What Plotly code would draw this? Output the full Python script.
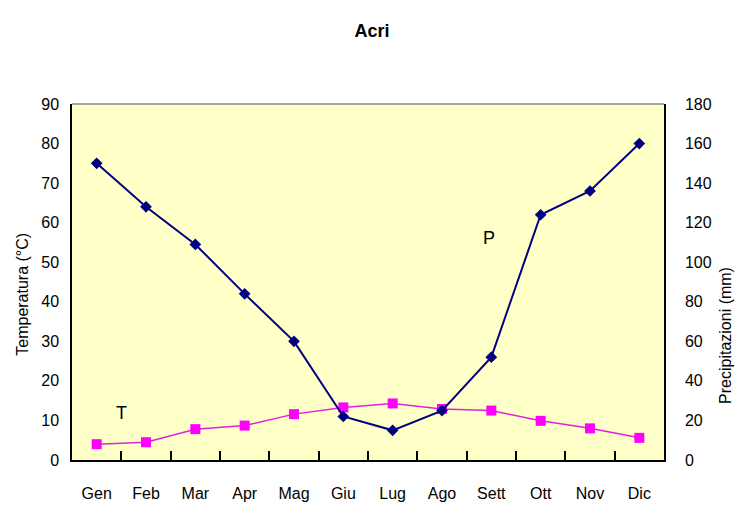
import plotly.graph_objects as go

months = ["Gen", "Feb", "Mar", "Apr", "Mag", "Giu", "Lug", "Ago", "Sett", "Ott", "Nov", "Dic"]
temperatura = [4.0, 4.5, 7.8, 8.7, 11.6, 13.3, 14.3, 12.9, 12.5, 9.9, 8.0, 5.6]
precipitazioni = [150, 128, 109, 84, 60, 22, 15, 25, 52, 124, 136, 160]
left_ticks = [0, 10, 20, 30, 40, 50, 60, 70, 80, 90]
right_ticks = [0, 20, 40, 60, 80, 100, 120, 140, 160, 180]

FONT = "Liberation Sans Narrow, Arial Narrow, Liberation Sans, Arial, sans-serif"

fig = go.Figure()
fig.add_trace(go.Scatter(
    x=months, y=temperatura, name="T", mode="lines+markers",
    line=dict(color="#E020E0", width=1.5),
    marker=dict(symbol="square", size=10, color="#FF00FF"),
    yaxis="y",
))
fig.add_trace(go.Scatter(
    x=months, y=precipitazioni, name="P", mode="lines+markers",
    line=dict(color="#000080", width=2),
    marker=dict(symbol="diamond", size=9, color="#000080"),
    yaxis="y2",
))

fig.update_layout(
    width=741, height=507,
    margin=dict(l=72, r=77, t=104, b=47, autoexpand=False),
    paper_bgcolor="white",
    plot_bgcolor="#FFFFC8",
    showlegend=False,
    font=dict(family=FONT, size=16, color="black"),
    title=dict(text="<b>Acri</b>", x=0.502, xanchor="center", y=0.94, yanchor="middle",
               font=dict(family="Liberation Sans, Arial, sans-serif", size=18, color="black")),
    xaxis=dict(
        type="category", range=[-0.5, 11.5], automargin=False,
        showline=True, linecolor="black", linewidth=1.5,
        ticks="inside", ticklen=9, tickcolor="black", tickwidth=1.5,
        tickson="boundaries", showgrid=False, zeroline=False,
        ticklabelstandoff=18,
    ),
    yaxis=dict(
        range=[0, 90], tickvals=left_ticks, showgrid=False, zeroline=False,
        automargin=False,
        showline=True, linecolor="black", linewidth=1.5, ticks="",
        ticklabelstandoff=8,
    ),
    yaxis2=dict(
        range=[0, 180], tickvals=right_ticks, overlaying="y", side="right",
        showgrid=False, zeroline=False, automargin=False,
        showline=True, linecolor="black", linewidth=1.5, ticks="",
        ticklabelstandoff=16,
    ),
    shapes=[dict(type="line", xref="paper", yref="paper", x0=0, x1=1, y0=1, y1=1,
                 line=dict(color="#888888", width=1.5))],
    annotations=[
        dict(text="Temperatura (°C)", xref="paper", yref="paper", x=-0.084, y=0.465,
             textangle=-90, showarrow=False, xanchor="center", yanchor="middle",
             font=dict(size=16)),
        dict(text="Precipitazioni (mm)", xref="paper", yref="paper", x=1.104, y=0.35,
             textangle=-90, showarrow=False, xanchor="center", yanchor="middle",
             font=dict(size=16)),
        dict(text="T", x=0.5, y=12, xref="x", yref="y", showarrow=False,
             font=dict(size=18)),
        dict(text="P", x=7.95, y=56, xref="x", yref="y", showarrow=False,
             font=dict(size=18)),
    ],
)

fig.write_html("out.html", config={"displayModeBar": False},
               post_script="document.body.style.margin='0';")
